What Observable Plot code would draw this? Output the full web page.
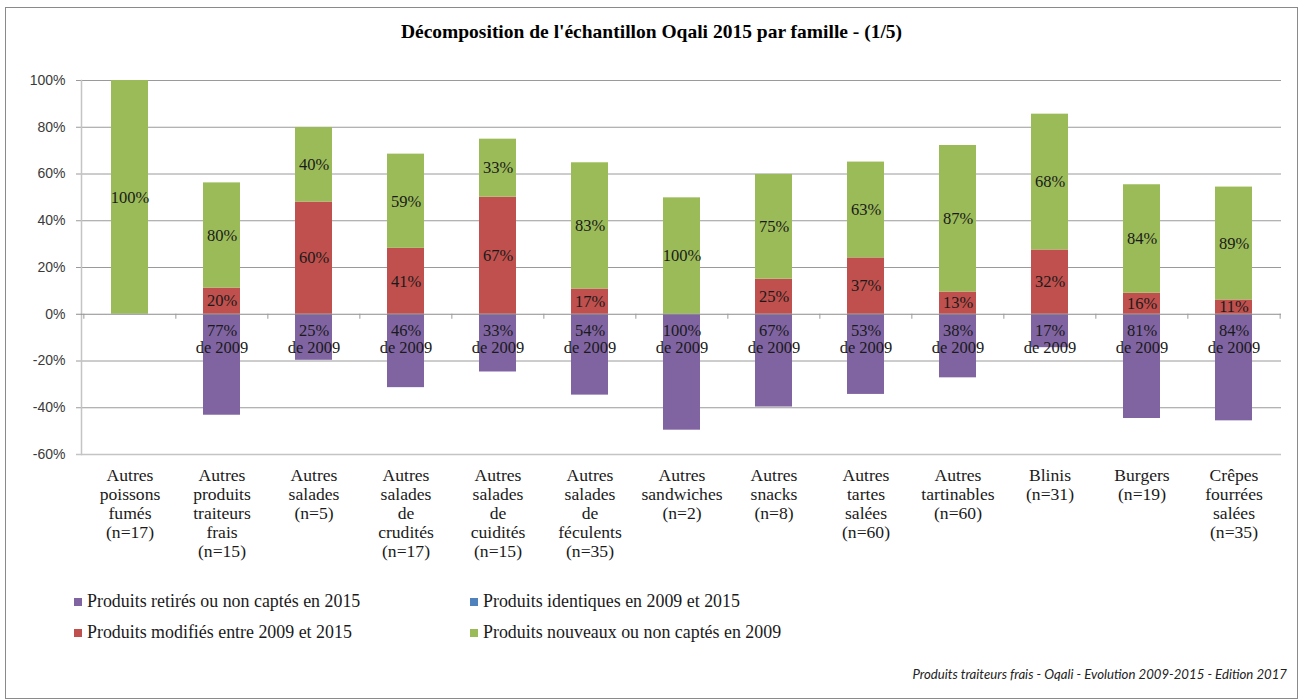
<!DOCTYPE html>
<html>
<head>
<meta charset="utf-8">
<script src="https://cdn.jsdelivr.net/npm/d3@7"></script>
<script src="https://cdn.jsdelivr.net/npm/@observablehq/plot@0.6"></script>
<style>
  body { margin: 0; background: #fff; }
  #wrap { position: relative; width: 1301px; height: 700px; overflow: hidden; background: #fff; }
  #border { position: absolute; left: 5px; top: 7px; width: 1293px; height: 692px; border: 1.5px solid #8a8a8a; box-sizing: border-box; }
  #title { position: absolute; top: 20px; left: 0; width: 1303px; text-align: center; font: bold 19.5px "Liberation Serif", serif; color: #000; line-height: 24px; }
  #chart { position: absolute; left: 0; top: 0; }
  .leg { position: absolute; font-family: "Liberation Serif", serif; font-size: 17.9px; color: #1a1a1a; white-space: nowrap; line-height: 20px; }
  .leg span.sw { display: inline-block; width: 8px; height: 8px; margin-right: 5px; vertical-align: 1px; }
  #caption { position: absolute; right: 14px; top: 666px; font-family: Lato, sans-serif; font-style: italic; font-size: 13.2px; color: #222; }
</style>
</head>
<body>
<div id="wrap">
  <div id="border"></div>
  <div id="title"></div>
  <div id="chart"></div>
  <div id="legend"></div>
  <div id="caption"></div>
</div>
<script>
const titleText = "Décomposition de l'échantillon Oqali 2015 par famille - (1/5)";
const captionText = "Produits traiteurs frais - Oqali - Evolution 2009-2015 - Edition 2017";

const categories = [
  "Autres poissons fumés (n=17)",
  "Autres produits traiteurs frais (n=15)",
  "Autres salades (n=5)",
  "Autres salades de crudités (n=17)",
  "Autres salades de cuidités (n=15)",
  "Autres salades de féculents (n=35)",
  "Autres sandwiches (n=2)",
  "Autres snacks (n=8)",
  "Autres tartes salées (n=60)",
  "Autres tartinables (n=60)",
  "Blinis (n=31)",
  "Burgers (n=19)",
  "Crêpes fourrées salées (n=35)"
];
const categoryLines = [
  "Autres\npoissons\nfumés\n(n=17)",
  "Autres\nproduits\ntraiteurs\nfrais\n(n=15)",
  "Autres\nsalades\n(n=5)",
  "Autres\nsalades\nde\ncrudités\n(n=17)",
  "Autres\nsalades\nde\ncuidités\n(n=15)",
  "Autres\nsalades\nde\nféculents\n(n=35)",
  "Autres\nsandwiches\n(n=2)",
  "Autres\nsnacks\n(n=8)",
  "Autres\ntartes\nsalées\n(n=60)",
  "Autres\ntartinables\n(n=60)",
  "Blinis\n(n=31)",
  "Burgers\n(n=19)",
  "Crêpes\nfourrées\nsalées\n(n=35)"
];

const seriesNames = [
  "Produits retirés ou non captés en 2015",
  "Produits identiques en 2009 et 2015",
  "Produits modifiés entre 2009 et 2015",
  "Produits nouveaux ou non captés en 2009"
];
const seriesColors = ["#8064A2", "#4F81BD", "#C0504D", "#9BBB59"];

// bar heights (% scale of the chart)
const retiredValues  = [0, 43.2, 19.7, 31.4, 24.7, 34.6, 49.6, 39.7, 34.3, 27.2, 14.3, 44.6, 45.6];
const identicalValues = [0, 0, 0, 0, 0, 0, 0, 0, 0, 0, 0, 0, 0];
const modifiedValues = [0, 11.2, 48.0, 28.2, 50.1, 10.8, 0, 15.0, 24.1, 9.5, 27.5, 9.0, 6.1];
const newValues      = [100, 45.0, 31.9, 40.3, 24.8, 54.0, 49.8, 44.8, 41.0, 62.7, 58.1, 46.4, 48.3];

// data labels shown on the bars
const retiredLabels  = ["", "77%", "25%", "46%", "33%", "54%", "100%", "67%", "53%", "38%", "17%", "81%", "84%"];
const modifiedLabels = ["", "20%", "60%", "41%", "67%", "17%", "", "25%", "37%", "13%", "32%", "16%", "11%"];
const newLabels      = ["100%", "80%", "40%", "59%", "33%", "83%", "100%", "75%", "63%", "87%", "68%", "84%", "89%"];

const yTicks = [-60, -40, -20, 0, 20, 40, 60, 80, 100];

document.getElementById("title").textContent = titleText;
document.getElementById("caption").textContent = captionText;

const rows = [];
categories.forEach((c, i) => {
  rows.push({cat: c, series: seriesNames[0], value: -retiredValues[i], label: retiredLabels[i]});
  rows.push({cat: c, series: seriesNames[2], value: modifiedValues[i], label: modifiedLabels[i]});
  rows.push({cat: c, series: seriesNames[3], value: newValues[i], label: newLabels[i]});
});
const posRows = rows.filter(d => d.series !== seriesNames[0]);
const negRows = rows.filter(d => d.series === seriesNames[0] && d.label);

const W = 1301, H = 570, ML = 81, MR = 20, MT = 80, MB = 116;
const step = (W - ML - MR) / categories.length;

const chart = Plot.plot({
  width: W, height: H,
  marginLeft: ML, marginRight: MR, marginTop: MT, marginBottom: MB,
  style: {fontFamily: "Liberation Serif", fontSize: "16px", background: "transparent", color: "#1a1a1a", overflow: "visible"},
  x: {domain: categories, paddingInner: 0.6, paddingOuter: 0.3, axis: null},
  y: {domain: [-60, 100], axis: null},
  color: {domain: seriesNames, range: seriesColors},
  marks: [
    Plot.ruleY(yTicks.filter(d => d !== -60 && d !== 0), {y: d => d, stroke: "#9a9a9a", strokeWidth: 1, insetLeft: -5}),
    Plot.ruleY([-60], {y: d => d, stroke: "#c4c4c4", strokeWidth: 1.5, insetLeft: -5}),
    Plot.frame({anchor: "left", stroke: "#c4c4c4", strokeWidth: 1.5}),
    Plot.axisY(yTicks, {tickFormat: d => `${d}%`, tickSize: 0, tickPadding: 16, fontFamily: "Liberation Sans", fontSize: 14, color: "#3a3a3a", label: null}),
    Plot.barY(rows, Plot.stackY({x: "cat", y: "value", fill: "series", z: "series"})),
    Plot.ruleY([0], {y: d => d, stroke: "#8c8c8c", strokeWidth: 1, insetLeft: -5}),
    Plot.ruleX(categories, {x: d => d, y1: 0, y2: 0, insetBottom: -5, dx: -step / 2, stroke: "#9a9a9a"}),
    Plot.ruleX(categories.slice(-1), {x: d => d, y1: 0, y2: 0, insetBottom: -5, dx: step / 2, stroke: "#9a9a9a"}),
    Plot.text(posRows, Plot.stackY({x: "cat", y: "value", z: "series", text: "label", fontSize: 16.5, fill: "#1a1a1a"})),
    Plot.text(negRows, {x: "cat", y: 0, text: d => `${d.label}\nde 2009`, lineAnchor: "middle", dy: 25, lineHeight: 1.02, fontSize: 16.5, fill: "#1a1a1a"}),
    Plot.text(categories, {x: d => d, text: (d, i) => categoryLines[i], frameAnchor: "bottom", lineAnchor: "top", dy: 13, lineHeight: 1.08, fontSize: 17.6, fill: "#1a1a1a"})
  ]
});
document.getElementById("chart").appendChild(chart);

// legend (HTML, below the plot)
const legendPos = [
  {i: 0, left: 74, top: 591},
  {i: 1, left: 470, top: 591},
  {i: 2, left: 74, top: 622},
  {i: 3, left: 470, top: 622}
];
const legend = document.getElementById("legend");
legendPos.forEach(p => {
  const d = document.createElement("div");
  d.className = "leg";
  d.style.left = p.left + "px";
  d.style.top = p.top + "px";
  const sw = document.createElement("span");
  sw.className = "sw";
  sw.style.background = seriesColors[p.i];
  d.appendChild(sw);
  d.appendChild(document.createTextNode(seriesNames[p.i]));
  legend.appendChild(d);
});
</script>
</body>
</html>
